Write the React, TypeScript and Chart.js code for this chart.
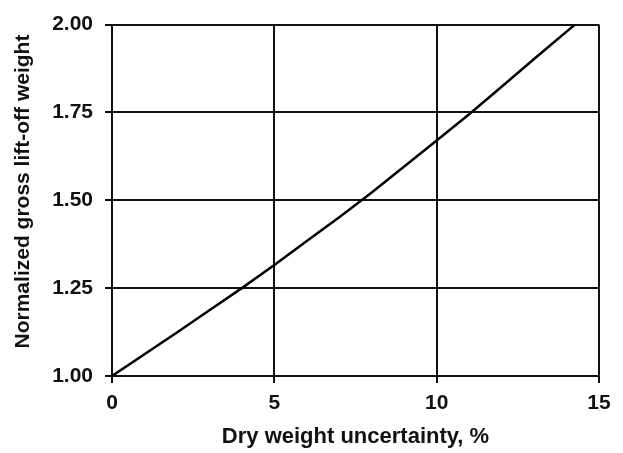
import React, { useEffect, useRef } from "react";
import { Chart, registerables } from "chart.js";

Chart.register(...registerables);

const uncertaintyPct = [0, 1, 2, 3, 4, 5, 6, 7, 8, 9, 10, 11, 12, 13, 14, 14.26];
const normalizedGLOW = [1.0, 1.062, 1.124, 1.187, 1.25, 1.316, 1.384, 1.452, 1.522, 1.596, 1.67, 1.745, 1.823, 1.902, 1.98, 2.0];
const xTicks = [0, 5, 10, 15];
const yTicks = [1.0, 1.25, 1.5, 1.75, 2.0];
const xTitle = "Dry weight uncertainty, %";
const yTitle = "   Normalized gross lift-off weight";

const FONT = "'Liberation Sans', Arial, Helvetica, sans-serif";

export default function App() {
  const ref = useRef<HTMLCanvasElement | null>(null);
  useEffect(() => {
    if (!ref.current) return;
    const data = uncertaintyPct.map((x, i) => ({ x, y: normalizedGLOW[i] }));
    const chart = new Chart(ref.current, {
      type: "line",
      data: {
        datasets: [
          {
            data,
            borderColor: "#000",
            borderWidth: 2.5,
            pointRadius: 0,
            tension: 0,
            fill: false,
          },
        ],
      },
      options: {
        responsive: false,
        animation: false,
        layout: { padding: { left: 7, right: 24, top: 14, bottom: 0 } },
        plugins: { legend: { display: false }, tooltip: { enabled: false } },
        scales: {
          x: {
            type: "linear",
            min: xTicks[0],
            max: xTicks[xTicks.length - 1],
            afterBuildTicks: (s: any) => {
              s.ticks = xTicks.map((v) => ({ value: v }));
            },
            afterFit: (s: any) => {
              s.height = 77;
            },
            grid: { color: "#111", lineWidth: 2, tickLength: 7, drawTicks: true },
            border: { color: "#111", width: 2 },
            ticks: {
              color: "#111",
              padding: 8,
              font: { family: FONT, size: 21, weight: "bold" },
              callback: (v: any) => String(v),
            },
            title: {
              display: true,
              text: xTitle,
              color: "#111",
              padding: { top: 4, bottom: 3 },
              font: { family: FONT, size: 22, weight: "bold" },
            },
          },
          y: {
            type: "linear",
            min: yTicks[0],
            max: yTicks[yTicks.length - 1],
            afterBuildTicks: (s: any) => {
              s.ticks = yTicks.map((v) => ({ value: v }));
            },
            afterFit: (s: any) => {
              s.width = 105;
            },
            grid: { color: "#111", lineWidth: 2, tickLength: 7, drawTicks: true },
            border: { color: "#111", width: 2 },
            ticks: {
              color: "#111",
              padding: 12,
              font: { family: FONT, size: 21, weight: "bold" },
              callback: (v: any) => Number(v).toFixed(2),
            },
            title: {
              display: true,
              text: yTitle,
              color: "#111",
              padding: { top: 4, bottom: 4 },
              font: { family: FONT, size: 21, weight: "bold" },
            },
          },
        },
      },
    });
    return () => chart.destroy();
  }, []);
  return (
    <div style={{ position: "fixed", left: 0, top: 0, width: 623, height: 453, background: "#fff" }}>
      <canvas ref={ref} width={623} height={453} style={{ display: "block" }} />
    </div>
  );
}
